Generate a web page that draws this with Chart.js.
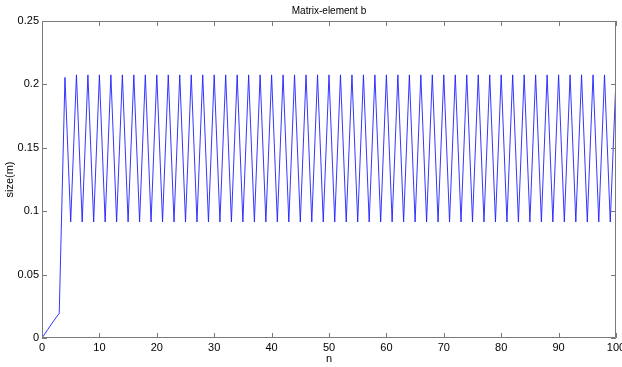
<!DOCTYPE html>
<html>
<head>
<meta charset="utf-8">
<script src="https://cdn.jsdelivr.net/npm/chart.js@4/dist/chart.umd.min.js"></script>
<style>
  body { margin: 0; background: #fff; }
  #wrap { width: 622px; height: 367px; }
</style>
</head>
<body>
<div id="wrap"><canvas id="c" width="622" height="367"></canvas></div>
<script>
// n = 0..100
const nValues = [
  0, 1, 2, 3, 4, 5, 6, 7, 8, 9,
  10, 11, 12, 13, 14, 15, 16, 17, 18, 19,
  20, 21, 22, 23, 24, 25, 26, 27, 28, 29,
  30, 31, 32, 33, 34, 35, 36, 37, 38, 39,
  40, 41, 42, 43, 44, 45, 46, 47, 48, 49,
  50, 51, 52, 53, 54, 55, 56, 57, 58, 59,
  60, 61, 62, 63, 64, 65, 66, 67, 68, 69,
  70, 71, 72, 73, 74, 75, 76, 77, 78, 79,
  80, 81, 82, 83, 84, 85, 86, 87, 88, 89,
  90, 91, 92, 93, 94, 95, 96, 97, 98, 99,
  100
];
// size(m)
const sizeValues = [
  0, 0.0067, 0.0133, 0.0195, 0.2055, 0.0915, 0.2075, 0.0915, 0.2075, 0.0915,
  0.2075, 0.0915, 0.2075, 0.0915, 0.2075, 0.0915, 0.2075, 0.0915, 0.2075, 0.0915,
  0.2075, 0.0915, 0.2075, 0.0915, 0.2075, 0.0915, 0.2075, 0.0915, 0.2075, 0.0915,
  0.2075, 0.0915, 0.2075, 0.0915, 0.2075, 0.0915, 0.2075, 0.0915, 0.2075, 0.0915,
  0.2075, 0.0915, 0.2075, 0.0915, 0.2075, 0.0915, 0.2075, 0.0915, 0.2075, 0.0915,
  0.2075, 0.0915, 0.2075, 0.0915, 0.2075, 0.0915, 0.2075, 0.0915, 0.2075, 0.0915,
  0.2075, 0.0915, 0.2075, 0.0915, 0.2075, 0.0915, 0.2075, 0.0915, 0.2075, 0.0915,
  0.2075, 0.0915, 0.2075, 0.0915, 0.2075, 0.0915, 0.2075, 0.0915, 0.2075, 0.0915,
  0.2075, 0.0915, 0.2075, 0.0915, 0.2075, 0.0915, 0.2075, 0.0915, 0.2075, 0.0915,
  0.2075, 0.0915, 0.2075, 0.0915, 0.2075, 0.0915, 0.2075, 0.0915, 0.2075, 0.0915,
  0.205
];
const xTicks = [0, 10, 20, 30, 40, 50, 60, 70, 80, 90, 100];
const yTicks = [0, 0.05, 0.1, 0.15, 0.2, 0.25];

const axisColor = "#7a7a7a";
const font = { family: "'Liberation Sans', Arial, sans-serif", size: 11 };

// matlab style box with inward tick marks on all four sides
const boxTicks = {
  id: "boxTicks",
  afterDatasetsDraw(chart) {
    const { ctx, chartArea: a, scales } = chart;
    const len = 5;
    ctx.save();
    ctx.strokeStyle = axisColor;
    ctx.lineWidth = 1;
    ctx.beginPath();
    ctx.rect(a.left + 0.5, a.top + 0.5, a.right - a.left - 1, a.bottom - a.top - 1);
    xTicks.forEach(v => {
      const px = Math.round(scales.x.getPixelForValue(v)) + 0.5;
      ctx.moveTo(px, a.bottom); ctx.lineTo(px, a.bottom - len);
      ctx.moveTo(px, a.top); ctx.lineTo(px, a.top + len);
    });
    yTicks.forEach(v => {
      const py = Math.round(scales.y.getPixelForValue(v)) + 0.5;
      ctx.moveTo(a.left, py); ctx.lineTo(a.left + len, py);
      ctx.moveTo(a.right, py); ctx.lineTo(a.right - len, py);
    });
    ctx.stroke();
    ctx.restore();
  }
};

new Chart(document.getElementById("c"), {
  type: "line",
  data: {
    datasets: [{
      data: nValues.map((n, i) => ({ x: n, y: sizeValues[i] })),
      borderColor: "#1f1fff",
      borderWidth: 0.9,
      pointRadius: 0,
      tension: 0,
      fill: false
    }]
  },
  options: {
    responsive: false,
    animation: false,
    layout: { padding: { left: 0, right: 6, top: 0, bottom: 0 } },
    plugins: {
      legend: { display: false },
      tooltip: { enabled: false },
      title: {
        display: true,
        fullSize: false,
        text: "Matrix-element b",
        color: "#000",
        font: { ...font, size: 10, weight: "normal" },
        padding: { top: 5, bottom: 4 }
      }
    },
    scales: {
      x: {
        type: "linear",
        min: 0,
        max: 100,
        afterBuildTicks: s => { s.ticks = xTicks.map(v => ({ value: v })); },
        afterFit: s => { s.height = 29; s.paddingLeft = 0; s.paddingRight = 0; },
        grid: { display: false, drawTicks: false },
        border: { display: false },
        ticks: { color: "#000", font, padding: 3, maxRotation: 0 },
        title: { display: true, text: "n", color: "#000", font, padding: { top: 0, bottom: 1 } }
      },
      y: {
        type: "linear",
        min: 0,
        max: 0.25,
        afterBuildTicks: s => { s.ticks = yTicks.map(v => ({ value: v })); },
        afterFit: s => { s.width = 42; s.paddingTop = 0; s.paddingBottom = 0; },
        grid: { display: false, drawTicks: false },
        border: { display: false },
        ticks: {
          color: "#000",
          font,
          padding: 3,
          callback: v => String(Number(v.toFixed(2)))
        },
        title: { display: true, text: "size(m)", color: "#000", font, padding: { top: 3, bottom: 0 } }
      }
    }
  },
  plugins: [boxTicks]
});
</script>
</body>
</html>
